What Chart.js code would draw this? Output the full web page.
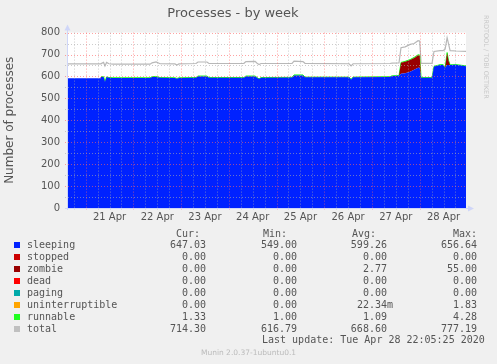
<!DOCTYPE html>
<html>
<head>
<meta charset="utf-8">
<script src="https://cdn.jsdelivr.net/npm/chart.js@4.4.1/dist/chart.umd.min.js"></script>
<style>
  body { margin: 0; background: #f0f0f0; width: 497px; height: 364px; overflow: hidden; position: relative; }
  #chart { position: absolute; left: 0; top: 0; }
  .t { position: absolute; font-family: 'DejaVu Sans Mono', monospace; font-size: 10px; line-height: 12px; color: #555; white-space: pre; }
  .sq { position: absolute; width: 6px; height: 6px; }
  #munin { position: absolute; left: 0; width: 497px; text-align: center; top: 348px; font-family: 'DejaVu Sans', sans-serif; font-size: 7.5px; line-height: 10px; color: #bbb; }
</style>
</head>
<body>
<canvas id="chart" width="497" height="230"></canvas>
<div id="legend"></div>
<div id="munin">Munin 2.0.37-1ubuntu0.1</div>
<script>
// hours since 21 Apr 00:00
const hours    = [-9.4, 7.2, 7.7, 9.0, 9.7, 10.5, 11.7, 13.7, 32.4, 33.4, 35.4, 37.4, 44.9, 45.9, 46.9,
                  55.5, 56.5, 61.0, 62.0, 79.6, 80.6, 85.2, 86.2, 87.2, 88.2, 103.8, 104.8, 109.3, 110.3,
                  132.5, 133.5, 134.5, 153.1, 154.1, 157.6, 158.6, 160.7, 163.2, 165.2, 167.2, 168.0, 168.7,
                  174.2, 175.2, 178.3, 179.8, 180.8, 181.8, 182.5, 183.3, 186.3, 191.3];
const sleeping = [592, 592, 598, 598, 576, 597, 594, 593, 593, 597, 598, 594, 593, 590, 593,
                  594, 600, 600, 594, 594, 600, 600, 594, 588, 594, 595, 604, 604, 596,
                  596, 586, 596, 598, 602, 603, 612, 615, 622, 630, 640, 640, 594,
                  594, 645, 652, 652, 640, 652, 652, 652, 653, 647];
const zombie   = [0, 0, 0, 0, 0, 0, 0, 0, 0, 0, 0, 0, 0, 0, 0,
                  0, 0, 0, 0, 0, 0, 0, 0, 0, 0, 0, 0, 0, 0,
                  0, 0, 0, 0, 0, 0, 50, 52, 53, 54, 55, 55, 0,
                  0, 0, 0, 0, 0, 55, 20, 0, 0, 0];
const runnable = [null, null, 1, 1, 1, 1, 1, 1, 1, 2, 2, 1, 1, 1, 1,
                  1, 2, 2, 1, 1, 2, 2, 1, 1, 1, 1, 3, 3, 1,
                  1, 1, 1, 1, 1, 1, 2, 2, 2, 3, 4, 3, 1,
                  1, 1, 2, 2, 1, 2, 2, 1, 1, 1.33];
const total    = [657, 657, 658, 664, 648, 664, 658, 656, 656, 662, 666, 658, 657, 652, 657,
                  659, 666, 666, 659, 660, 668, 669, 660, 654, 659, 660, 670, 668, 660,
                  658, 648, 658, 659, 661, 662, 731, 735, 746, 750, 763, 762, 660,
                  660, 714, 718, 718, 724, 777, 750, 718, 716, 714];
const dayLabels = ['21 Apr', '22 Apr', '23 Apr', '24 Apr', '25 Apr', '26 Apr', '27 Apr', '28 Apr'];

const seriesNames  = ['sleeping', 'stopped', 'zombie', 'dead', 'paging', 'uninterruptible', 'runnable', 'total'];
const seriesColors = ['#0022ff', '#cc0000', '#990000', '#ff0000', '#00aaaa', '#ffa500', '#22ff22', '#c0c0c0'];
const curValues = ['647.03', '0.00', '0.00', '0.00', '0.00', '0.00', '1.33', '714.30'];
const minValues = ['549.00', '0.00', '0.00', '0.00', '0.00', '0.00', '1.00', '616.79'];
const avgValues = ['599.26 ', '0.00 ', '2.77 ', '0.00 ', '0.00 ', '22.34m', '1.09 ', '668.60 '];
const maxValues = ['656.64', '0.00', '55.00', '0.00', '0.00', '1.83', '4.28', '777.19'];

const pts = arr => hours.map((h, i) => ({ x: h, y: arr[i] }));
const clear = 'rgba(0,0,0,0)';
const majorGrid = 'rgba(255,100,100,0.6)';
const minorGrid = 'rgba(170,170,170,0.6)';
const axisColor = '#CFD6F8';

// rrdtool style dotted grid, drawn over the areas
function drawGrid(chart) {
  const { ctx, chartArea: a, scales } = chart;
  ctx.save();
  ctx.lineWidth = 1;
  ctx.setLineDash([1, 2]);
  for (let v = 50; v <= 800; v += 50) {
    const y = Math.round(scales.y.getPixelForValue(v)) + 0.5;
    ctx.strokeStyle = v % 100 === 0 ? majorGrid : minorGrid;
    ctx.beginPath();
    ctx.moveTo(a.left - 2, y);
    ctx.lineTo(a.right, y);
    ctx.stroke();
  }
  for (let h = -6; h <= 186; h += 6) {
    const x = Math.round(scales.x.getPixelForValue(h)) + 0.5;
    ctx.strokeStyle = h % 24 === 0 ? majorGrid : minorGrid;
    ctx.beginPath();
    ctx.moveTo(x, a.top);
    ctx.lineTo(x, a.bottom + 2);
    ctx.stroke();
  }
  ctx.restore();
}

const muninPlugin = {
  id: 'munin',
  beforeDraw(chart) {
    const { ctx, chartArea: a } = chart;
    ctx.save();
    ctx.fillStyle = '#ffffff';
    ctx.fillRect(a.left, a.top, a.right - a.left, a.bottom - a.top);
    ctx.restore();
  },
  afterDatasetsDraw(chart) {
    drawGrid(chart);
  },
  afterDraw(chart) {
    const { ctx, chartArea: a } = chart;
    ctx.save();
    ctx.strokeStyle = axisColor;
    ctx.fillStyle = axisColor;
    ctx.lineWidth = 1;
    ctx.beginPath();
    ctx.moveTo(a.left + 0.5, a.bottom + 2);
    ctx.lineTo(a.left + 0.5, a.top - 4);
    ctx.moveTo(a.left - 2, a.bottom + 0.5);
    ctx.lineTo(a.right + 4, a.bottom + 0.5);
    ctx.stroke();
    ctx.beginPath();
    ctx.moveTo(a.left - 2.5, a.top - 2);
    ctx.lineTo(a.left + 3.5, a.top - 2);
    ctx.lineTo(a.left + 0.5, a.top - 8);
    ctx.closePath();
    ctx.fill();
    ctx.beginPath();
    ctx.moveTo(a.right + 2, a.bottom - 2.5);
    ctx.lineTo(a.right + 2, a.bottom + 3.5);
    ctx.lineTo(a.right + 8, a.bottom + 0.5);
    ctx.closePath();
    ctx.fill();
    ctx.translate(486, 15);
    ctx.rotate(Math.PI / 2);
    ctx.font = '6.5px "DejaVu Sans"';
    ctx.fillStyle = '#c8c8c8';
    ctx.textBaseline = 'middle';
    ctx.fillText('RRDTOOL / TOBI OETIKER', 0, 0);
    ctx.restore();
  }
};

Chart.defaults.font.family = '"DejaVu Sans", sans-serif';

new Chart(document.getElementById('chart'), {
  type: 'line',
  data: {
    datasets: [
      { label: 'sleeping', data: pts(sleeping), stack: 'procs', fill: 'origin',
        backgroundColor: '#0022ff', borderColor: clear, borderWidth: 1 },
      { label: 'zombie', data: pts(zombie), stack: 'procs', fill: '-1',
        backgroundColor: '#990000', borderColor: clear, borderWidth: 1 },
      { label: 'runnable', data: pts(runnable), stack: 'procs', fill: '-1',
        backgroundColor: '#22ff22', borderColor: '#22ff22', borderWidth: 1 },
      { label: 'total', data: pts(total), stack: 'sum', fill: false,
        borderColor: '#b8b8b8', borderWidth: 1.2 }
    ]
  },
  options: {
    responsive: false,
    animation: false,
    layout: { padding: { left: 0, right: 31, top: 0, bottom: 0 } },
    elements: { point: { radius: 0 }, line: { tension: 0 } },
    plugins: {
      legend: { display: false },
      tooltip: { enabled: false },
      title: {
        display: true,
        text: 'Processes - by week',
        color: '#555',
        font: { size: 13, weight: 'normal' },
        padding: { top: 6, bottom: 11 }
      }
    },
    scales: {
      x: {
        type: 'linear',
        min: -9.4,
        max: 191.3,
        afterFit: s => { s.height = 22; },
        afterBuildTicks: s => {
          s.ticks = dayLabels.map((d, i) => ({ value: 12 + 24 * i }));
        },
        ticks: {
          autoSkip: false,
          maxRotation: 0,
          color: '#555',
          font: { size: 10 },
          padding: 3,
          callback: v => dayLabels[(v - 12) / 24]
        },
        grid: { display: false, drawTicks: false },
        border: { display: false }
      },
      y: {
        stacked: true,
        min: 0,
        max: 800,
        afterFit: s => { s.width = 67; },
        ticks: {
          stepSize: 100,
          color: '#555',
          font: { size: 10 },
          padding: 7
        },
        grid: { display: false, drawTicks: false },
        border: { display: false },
        title: {
          display: true,
          text: 'Number of processes',
          color: '#555',
          font: { size: 12 },
          padding: { top: 3, bottom: 0 }
        }
      }
    }
  },
  plugins: [muninPlugin]
});

// text legend below the graph, munin style
const legend = document.getElementById('legend');
function place(text, x, y, align) {
  const d = document.createElement('div');
  d.className = 't';
  d.textContent = text;
  d.style.top = (y - 6) + 'px';
  if (align === 'right') d.style.right = (497 - x) + 'px';
  else d.style.left = x + 'px';
  legend.appendChild(d);
}
place('Cur:', 176, 233.5);
place('Min:', 263, 233.5);
place('Avg:', 352, 233.5);
place('Max:', 453, 233.5);
seriesNames.forEach((name, i) => {
  const y = 245 + 12 * i;
  const sq = document.createElement('div');
  sq.className = 'sq';
  sq.style.left = '14px';
  sq.style.top = (y - 3) + 'px';
  sq.style.background = seriesColors[i];
  legend.appendChild(sq);
  place(name, 27, y);
  place(curValues[i], 206, y, 'right');
  place(minValues[i], 297, y, 'right');
  place(avgValues[i], 393, y, 'right');
  place(maxValues[i], 477, y, 'right');
});
place('Last update: Tue Apr 28 22:05:25 2020', 262, 340);
</script>
</body>
</html>
